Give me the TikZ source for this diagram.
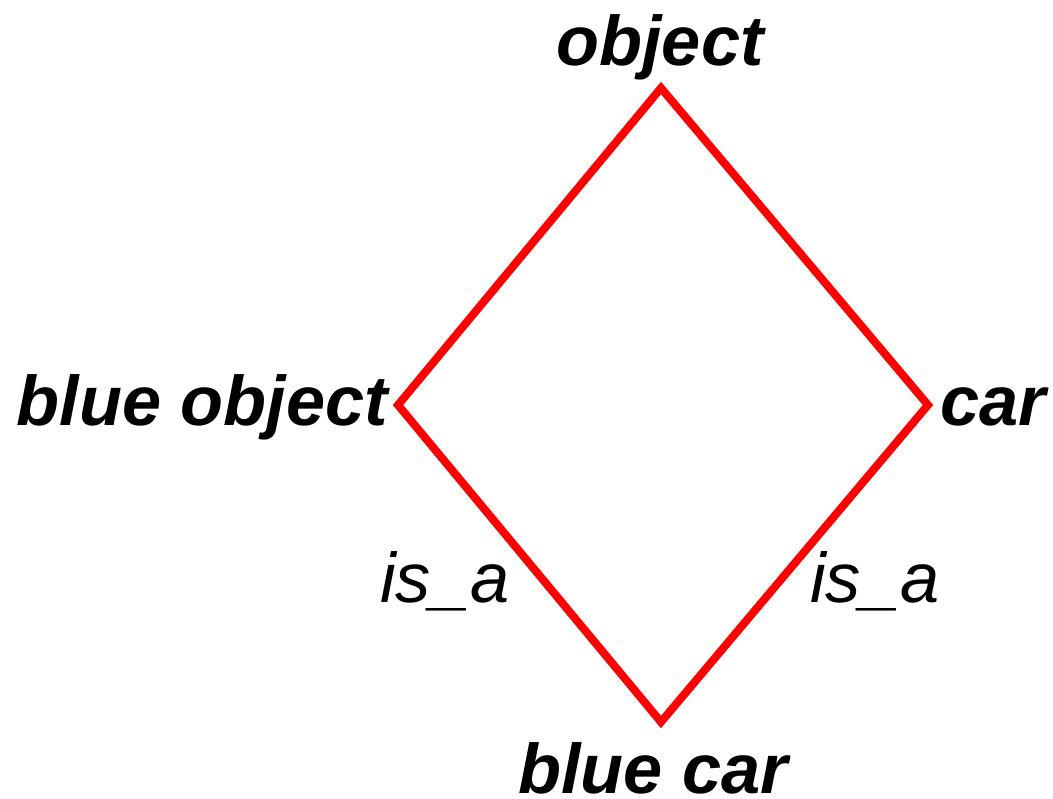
\documentclass[tikz,border=0pt]{standalone}
\usepackage{fontspec}
\setmainfont{Liberation Sans}
\usepackage{tikz}
\usetikzlibrary{calc}

\begin{document}
\begin{tikzpicture}[x=0.025cm,y=-0.025cm,
	every node/.style={inner sep=0pt},
	concept/.style={font=\fontsize{50}{60}\selectfont\bfseries\itshape},
	rel/.style={font=\fontsize{50}{60}\selectfont\itshape},
	link/.style={draw=red,line width=0.2cm,line join=miter}]
	\useasboundingbox (0,0) rectangle (1053,798);

	% corners of the lattice
	\coordinate (top) at (661,88);
	\coordinate (left) at (398,405);
	\coordinate (right) at (928,405);
	\coordinate (bottom) at (661,722);

	\node[concept,anchor=base] (obj) at (660,65) {object};
	\node[concept,anchor=base east] (blueobj) at (388,425) {blue object};
	\node[concept,anchor=base west] (car) at (940,425) {car};
	\node[concept,anchor=base] (bluecar) at (653,793) {blue car};

	\begin{scope}[every node/.style={rel,inner sep=0pt}]
		\node[anchor=base west] (isa1) at (380,602) {is\_a};
		\node[anchor=base west] (isa2) at (810,602) {is\_a};
	\end{scope}

	\draw[link] (top) -- (left) -- (bottom) -- (right) -- cycle;
\end{tikzpicture}
\end{document}
